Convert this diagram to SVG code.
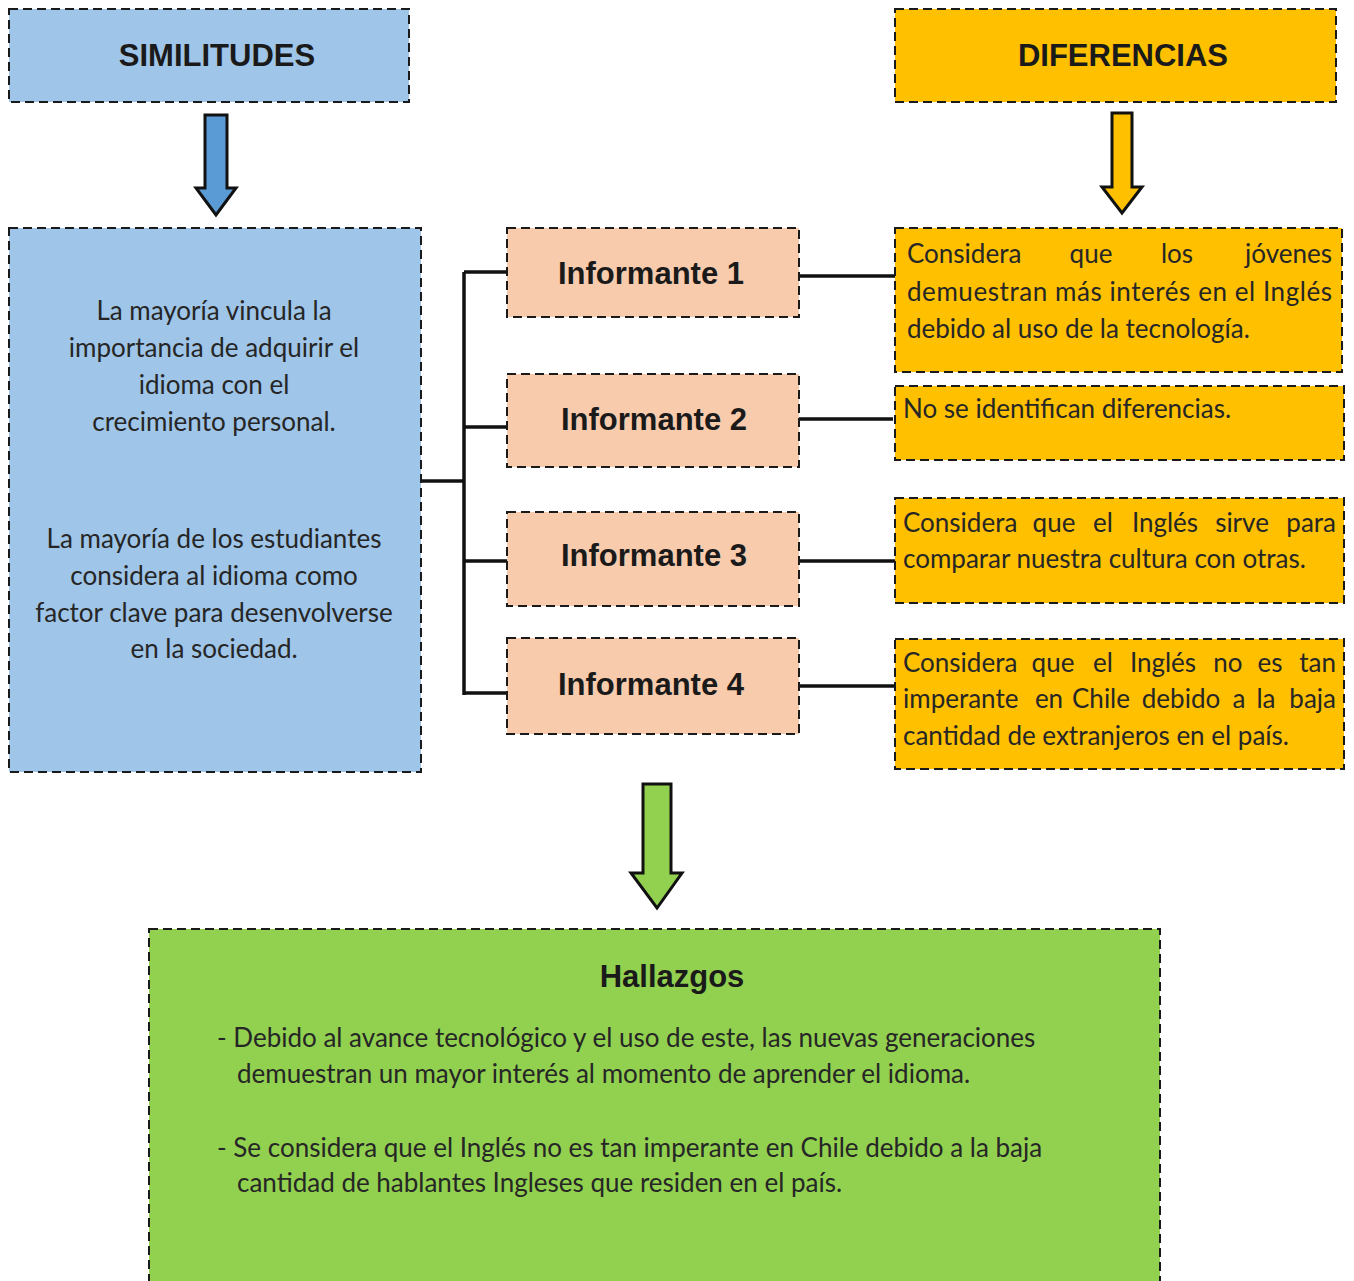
<svg xmlns="http://www.w3.org/2000/svg" width="1354" height="1281" viewBox="0 0 1354 1281">
<style>
.box{stroke:#1a1a1a;stroke-width:2;stroke-dasharray:9 5}
.blue{fill:#9fc5e8}.yel{fill:#ffc000}.peach{fill:#f8cbad}.green{fill:#92d050}
.hd{font-family:"Liberation Sans",Arial,sans-serif;font-weight:bold;font-size:31px;fill:#1a1a1a;text-anchor:middle}
.inf{font-family:"Liberation Sans",Arial,sans-serif;font-weight:bold;font-size:31px;fill:#1a1a1a;text-anchor:middle}
.t{font-family:Lato,"Open Sans",sans-serif;font-size:26px;fill:#262626}
.c{text-anchor:middle}.e{text-anchor:end}
.arr{stroke:#111;stroke-width:3;stroke-linejoin:miter}
.con{fill:none;stroke:#111;stroke-width:3.5}
</style>
<g id="similitudes-header">
<rect class="box blue" x="9" y="9" width="400" height="93"/>
<text class="hd" x="217" y="66">SIMILITUDES</text>
</g>
<g id="diferencias-header">
<rect class="box yel" x="895" y="9" width="441" height="93"/>
<text class="hd" x="1123" y="66">DIFERENCIAS</text>
</g>
<g id="arrow-blue"><path class="arr" fill="#5b9bd5" d="M205,115 H227 V188 H236 L216,215 L196,188 H205 Z"/></g>
<g id="arrow-yellow"><path class="arr" fill="#ffc000" d="M1112,113 H1132 V187 H1142 L1122,213 L1102,187 H1112 Z"/></g>
<g id="arrow-green"><path class="arr" fill="#92d050" d="M643,784 H671 V873 H682 L657,908 L631,873 H643 Z"/></g>
<g id="connectors">
<path class="con" d="M412,481 H464"/>
<path class="con" d="M464,272 V695"/>
<path class="con" d="M464,272 H507 M464,427 H507 M464,561 H507 M464,693 H507"/>
<path class="con" d="M799,276 H895 M799,419 H893 M799,561 H895 M799,686 H895"/>
</g>
<g id="similitudes">
<rect class="box blue" x="9" y="228" width="412" height="544"/>
<text class="t c" x="214" y="320">La mayoría vincula la</text>
<text class="t c" x="214" y="357">importancia de adquirir el</text>
<text class="t c" x="214" y="394">idioma con el</text>
<text class="t c" x="214" y="431">crecimiento personal.</text>
<text class="t c" x="214" y="548">La mayoría de los estudiantes</text>
<text class="t c" x="214" y="585">considera al idioma como</text>
<text class="t c" x="214" y="622">factor clave para desenvolverse</text>
<text class="t c" x="214" y="658">en la sociedad.</text>
</g>
<g id="informante-1">
<rect class="box peach" x="507" y="228" width="292" height="89"/>
<text class="inf" x="651" y="284">Informante 1</text>
</g>
<g id="informante-2">
<rect class="box peach" x="507" y="374" width="292" height="93"/>
<text class="inf" x="654" y="430">Informante 2</text>
</g>
<g id="informante-3">
<rect class="box peach" x="507" y="512" width="292" height="94"/>
<text class="inf" x="654" y="566">Informante 3</text>
</g>
<g id="informante-4">
<rect class="box peach" x="507" y="638" width="292" height="96"/>
<text class="inf" x="651" y="695">Informante 4</text>
</g>
<g id="diferencia-1">
<rect class="box yel" x="895" y="228" width="447" height="144"/>
<text class="t" x="907" y="263">Considera</text>
<text class="t c" x="1091" y="263">que</text>
<text class="t c" x="1177" y="263">los</text>
<text class="t e" x="1332" y="263">jóvenes</text>
<text class="t" x="907" y="301" textLength="425" lengthAdjust="spacing">demuestran más interés en el Inglés</text>
<text class="t" x="907" y="338">debido al uso de la tecnología.</text>
</g>
<g id="diferencia-2">
<rect class="box yel" x="895" y="386" width="449" height="74"/>
<text class="t" x="903" y="418">No se identifican diferencias.</text>
</g>
<g id="diferencia-3">
<rect class="box yel" x="895" y="498" width="449" height="105"/>
<text class="t" x="903" y="532">Considera</text>
<text class="t c" x="1054" y="532">que</text>
<text class="t c" x="1103" y="532">el</text>
<text class="t c" x="1165" y="532">Inglés</text>
<text class="t c" x="1242" y="532">sirve</text>
<text class="t e" x="1336" y="532">para</text>
<text class="t" x="903" y="568">comparar nuestra cultura con otras.</text>
</g>
<g id="diferencia-4">
<rect class="box yel" x="895" y="639" width="449" height="130"/>
<text class="t" x="903" y="672">Considera</text>
<text class="t c" x="1053" y="672">que</text>
<text class="t c" x="1103" y="672">el</text>
<text class="t c" x="1163" y="672">Inglés</text>
<text class="t c" x="1228" y="672">no</text>
<text class="t c" x="1270" y="672">es</text>
<text class="t e" x="1336" y="672">tan</text>
<text class="t" x="903" y="708">imperante</text>
<text class="t c" x="1049" y="708">en</text>
<text class="t c" x="1101" y="708">Chile</text>
<text class="t c" x="1181" y="708">debido</text>
<text class="t c" x="1239" y="708">a</text>
<text class="t c" x="1266" y="708">la</text>
<text class="t e" x="1336" y="708">baja</text>
<text class="t" x="903" y="745">cantidad de extranjeros en el país.</text>
</g>
<g id="hallazgos">
<rect class="box green" x="149" y="929" width="1011" height="370"/>
<text class="hd" x="672" y="987">Hallazgos</text>
<text class="t" x="217" y="1047">- Debido al avance tecnológico y el uso de este, las nuevas generaciones</text>
<text class="t" x="237" y="1083">demuestran un mayor interés al momento de aprender el idioma.</text>
<text class="t" x="217" y="1157">- Se considera que el Inglés no es tan imperante en Chile debido a la baja</text>
<text class="t" x="237" y="1192">cantidad de hablantes Ingleses que residen en el país.</text>
</g>
</svg>
